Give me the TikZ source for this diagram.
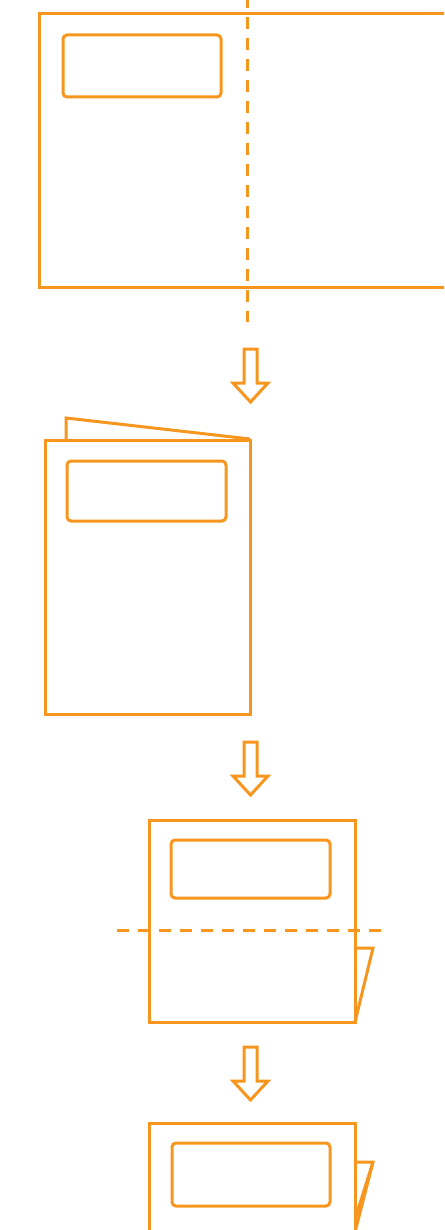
\documentclass[tikz,border=0pt]{standalone}
\usepackage{xcolor}
\definecolor{FoldOrange}{HTML}{F7961E}

\begin{document}
\begin{tikzpicture}[x=1pt, y=-1pt,
        color=FoldOrange, line width=3pt,
        window/.style={rounded corners=4pt},
        fold/.style={dash pattern=on 12pt off 9pt},
        line join=miter]
        \useasboundingbox (0,0) rectangle (444,1230);
        \clip (0,0) rectangle (444,1230);
        % open sheet
        \draw (39,14) rectangle (460,288);
        \draw[window] (63,35) rectangle (221,97);
        \draw[fold] (247,-4) -- (247,322);
        % folded once
        \draw (66,440) -- (66,418) -- (250,439);
        \draw (45,440) rectangle (250,714);
        \draw[window] (67,461) rectangle (226,521);
        % folded twice
        \draw (149,820) rectangle (355,1022);
        \draw[window] (171,840) rectangle (330,898);
        \draw (355,948) -- (373,948) -- (355,1022);
        \draw[fold] (117,930) -- (384,930);
        % folded three times
        \draw (149,1240) -- (149,1123) -- (355,1123) -- (355,1240);
        \draw[window] (172,1143) rectangle (330,1206);
        \draw (355,1162) -- (373,1162) -- (355,1232);
        \draw (373,1162) -- (356,1216);
        % arrows
        \foreach \t in {349,742,1047}
            \draw (244,\t) -- (257,\t) -- (257,\t+34) -- (268,\t+34) -- (250.5,\t+53)
                -- (233,\t+34) -- (244,\t+34) -- cycle;
    \end{tikzpicture}
\end{document}
